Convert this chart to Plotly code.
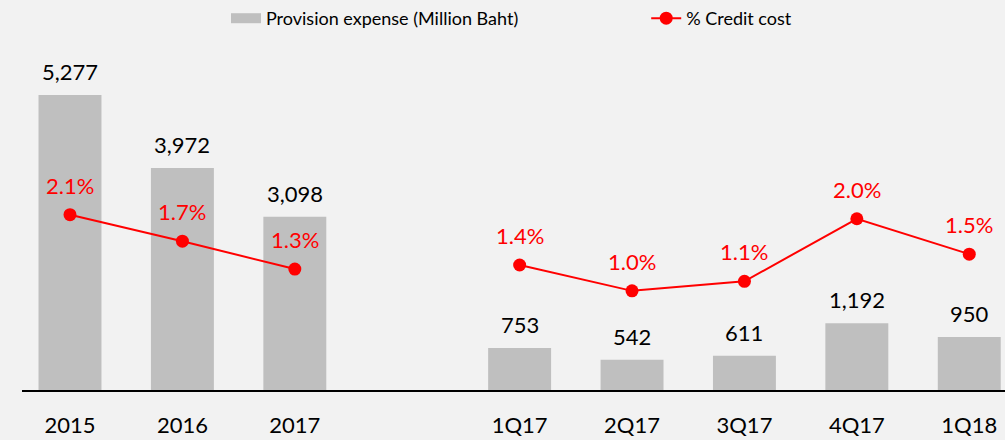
import plotly.graph_objects as go

years = ["2015", "2016", "2017"]
quarters = ["1Q17", "2Q17", "3Q17", "4Q17", "1Q18"]
provision_annual = [5277, 3972, 3098]
provision_quarter = [753, 542, 611, 1192, 950]
credit_annual = [2.10, 1.71, 1.30]
credit_quarter = [1.36, 0.98, 1.12, 2.04, 1.52]

GAP = " "
cats = years + [GAP] + quarters
bar_x = years + quarters
bar_y = provision_annual + provision_quarter
line_x = years + [GAP] + quarters
line_y = credit_annual + [None] + credit_quarter

FONT = "Lato"
BAR_COLOR = "#bfbfbf"
RED = "#ff0000"
BG = "#f2f2f2"

fig = go.Figure()
fig.add_trace(go.Bar(
    x=bar_x, y=bar_y, marker=dict(color=BAR_COLOR, line=dict(width=0)),
    width=0.56, showlegend=False, hoverinfo="x+y", yaxis="y"))
# legend swatch for bars
fig.add_trace(go.Scatter(
    x=[None], y=[None], mode="lines", line=dict(color=BAR_COLOR, width=11),
    name="Provision expense (Million Baht)", showlegend=True, legend="legend"))
fig.add_trace(go.Scatter(
    x=line_x, y=line_y, mode="lines+markers", connectgaps=False,
    line=dict(color=RED, width=2), marker=dict(color=RED, size=13),
    name="% Credit cost", yaxis="y2", legend="legend2"))

annotations = []
for x, v in zip(bar_x, bar_y):
    annotations.append(dict(x=cats.index(x), y=v, xref="x", yref="y",
                            text=f"{v:,}", showarrow=False, yanchor="bottom",
                            yshift=8,
                            font=dict(family=FONT, size=22, color="black")))
for x, v in zip(years + quarters, credit_annual + credit_quarter):
    annotations.append(dict(x=cats.index(x), y=v, xref="x", yref="y2",
                            text=f"{v:.1f}%", showarrow=False,
                            yanchor="bottom", yshift=14,
                            font=dict(family=FONT, size=22, color=RED)))

legend_style = dict(orientation="h", xanchor="left", y=1.0, yref="container",
                    yanchor="top", font=dict(family=FONT, size=18, color="black"),
                    bgcolor="rgba(0,0,0,0)")

fig.update_layout(
    width=1005, height=440,
    margin=dict(l=22, r=0, t=40, b=50),
    paper_bgcolor=BG, plot_bgcolor=BG,
    font=dict(family=FONT, color="black"),
    xaxis=dict(type="category", categoryorder="array", categoryarray=cats,
               range=[-0.427, 8.318], showgrid=False, zeroline=False,
               showline=True, linecolor="black", linewidth=2, ticks="",
               tickfont=dict(family=FONT, size=22, color="black"),
               ticklabelstandoff=15, fixedrange=True),
    yaxis=dict(range=[0, 6261], visible=False, showgrid=False, zeroline=False),
    yaxis2=dict(range=[-0.478, 4.669], overlaying="y", visible=False,
                showgrid=False, zeroline=False),
    legend=dict(x=0.2075, **legend_style),
    legend2=dict(x=0.635, **legend_style),
    annotations=annotations,
)

fig.write_html("out.html",
               config={"displayModeBar": False},
               post_script="document.body.style.margin='0';"
                           "document.body.style.padding='0';"
                           "document.body.style.overflow='hidden';")
